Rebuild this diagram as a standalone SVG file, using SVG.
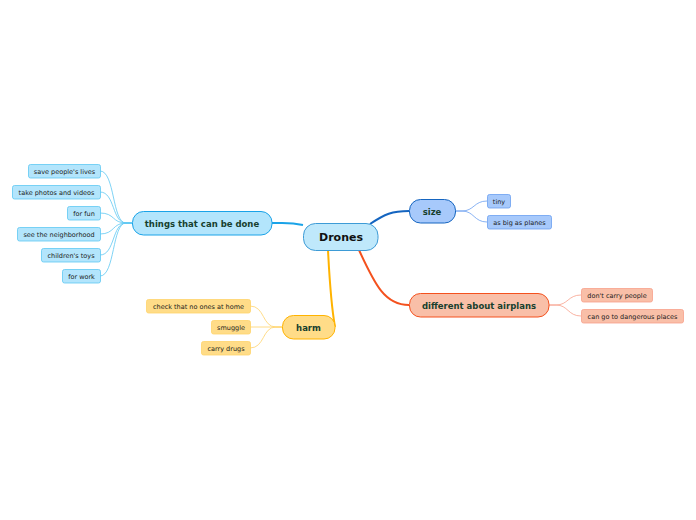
<svg xmlns="http://www.w3.org/2000/svg" width="696" height="520" viewBox="0 0 696 520">
<style>
text{font-family:"DejaVu Sans",Verdana,sans-serif;text-anchor:middle;dominant-baseline:central;fill:#1a1a1a}
.main{font-size:8.5px;font-weight:bold;fill:#17402e}
.leaf{font-size:6.5px}
.c path{fill:none}
</style>
<rect width="696" height="520" fill="#ffffff"/>
<g class="c" id="connectors">
<path d="M303,225 C290,222 285,223 272,223" stroke="#1aa3e8" stroke-width="2"/>
<path d="M370,224 C385,214 392,211 409,211" stroke="#1565c0" stroke-width="2"/>
<path d="M359,250 C375,285 385,305 409,305" stroke="#f4511e" stroke-width="2"/>
<path d="M328,250 C330,290 332,310 335,327" stroke="#ffb300" stroke-width="2"/>
<g stroke="#5ec8f2" stroke-width="0.8">
<path d="M132,223 L126,223 C112,223 115,171 100,171"/>
<path d="M132,223 L126,223 C112,223 115,192 100,192"/>
<path d="M132,223 L126,223 C112,223 115,213 100,213"/>
<path d="M132,223 L126,223 C112,223 115,234 100,234"/>
<path d="M132,223 L126,223 C112,223 115,255 100,255"/>
<path d="M132,223 L126,223 C112,223 115,276 100,276"/>
</g>
<g stroke="#6a9ef0" stroke-width="0.8">
<path d="M455,211 L462,211 C474,211 474,201 487,201"/>
<path d="M455,211 L462,211 C474,211 474,222 487,222"/>
</g>
<g stroke="#f7a08a" stroke-width="0.8">
<path d="M549,305 L556,305 C568,305 568,295 581,295"/>
<path d="M549,305 L556,305 C568,305 568,316 581,316"/>
</g>
<g stroke="#ffd36b" stroke-width="0.8">
<path d="M282,327 L276,327 C262,327 265,306 250,306"/>
<path d="M282,327 L250,327"/>
<path d="M282,327 L276,327 C262,327 265,348 250,348"/>
</g>
</g>
<g id="drones">
<rect x="303.5" y="223.5" width="74.5" height="27" rx="12" fill="#bfe8fb" stroke="#3d9bd6" stroke-width="1"/>
<text x="341" y="237" style="font-size:11px;font-weight:bold;fill:#111">Drones</text>
</g>
<g id="things">
<rect x="132.5" y="211.5" width="139.5" height="23.5" rx="11" fill="#b3e5fc" stroke="#1aa3e8" stroke-width="1"/>
<text class="main" x="202" y="223.5">things that can be done</text>
</g>
<g id="size">
<rect x="409.5" y="199.5" width="46" height="23.5" rx="11" fill="#a7c9fb" stroke="#1565c0" stroke-width="1"/>
<text class="main" x="432" y="211.5">size</text>
</g>
<g id="airplans">
<rect x="409.5" y="293.5" width="139.5" height="23.5" rx="11" fill="#f9bfa8" stroke="#f4511e" stroke-width="1"/>
<text class="main" x="479" y="305.5">different about airplans</text>
</g>
<g id="harm">
<rect x="282.5" y="315.5" width="52.5" height="23.5" rx="11" fill="#ffdc88" stroke="#ffb300" stroke-width="1"/>
<text class="main" x="308.5" y="327.5">harm</text>
</g>
<g id="t1"><rect x="28.5" y="164.5" width="72" height="13.5" rx="2" fill="#b3e5fc" stroke="#5ec8f2" stroke-width="0.8"/><text class="leaf" x="64.5" y="171.5">save people's lives</text></g>
<g id="t2"><rect x="12.5" y="185.5" width="88" height="13.5" rx="2" fill="#b3e5fc" stroke="#5ec8f2" stroke-width="0.8"/><text class="leaf" x="56.5" y="192.5">take photos and videos</text></g>
<g id="t3"><rect x="67.5" y="206.5" width="33" height="13.5" rx="2" fill="#b3e5fc" stroke="#5ec8f2" stroke-width="0.8"/><text class="leaf" x="84" y="213.5">for fun</text></g>
<g id="t4"><rect x="17.5" y="227.5" width="83" height="13.5" rx="2" fill="#b3e5fc" stroke="#5ec8f2" stroke-width="0.8"/><text class="leaf" x="59" y="234.5">see the neighborhood</text></g>
<g id="t5"><rect x="41.5" y="248.5" width="59" height="13.5" rx="2" fill="#b3e5fc" stroke="#5ec8f2" stroke-width="0.8"/><text class="leaf" x="71" y="255.5">children's toys</text></g>
<g id="t6"><rect x="62.5" y="269.5" width="38" height="13.5" rx="2" fill="#b3e5fc" stroke="#5ec8f2" stroke-width="0.8"/><text class="leaf" x="81.5" y="276.5">for work</text></g>
<g id="s1"><rect x="487.5" y="194.5" width="23" height="13.5" rx="2" fill="#a7c9fb" stroke="#6a9ef0" stroke-width="0.8"/><text class="leaf" x="499" y="201.5">tiny</text></g>
<g id="s2"><rect x="487.5" y="215.5" width="64" height="13.5" rx="2" fill="#a7c9fb" stroke="#6a9ef0" stroke-width="0.8"/><text class="leaf" x="519.5" y="222.5">as big as planes</text></g>
<g id="a1"><rect x="581.5" y="288.5" width="71" height="13.5" rx="2" fill="#f9bfa8" stroke="#f7a08a" stroke-width="0.8"/><text class="leaf" x="617" y="295.5">don't carry people</text></g>
<g id="a2"><rect x="581.5" y="309.5" width="102" height="13.5" rx="2" fill="#f9bfa8" stroke="#f7a08a" stroke-width="0.8"/><text class="leaf" x="632.5" y="316.5">can go to dangerous places</text></g>
<g id="h1"><rect x="146.5" y="299.5" width="104" height="13.5" rx="2" fill="#ffdc88" stroke="#ffd36b" stroke-width="0.8"/><text class="leaf" x="198.5" y="306.5">check that no ones at home</text></g>
<g id="h2"><rect x="211.5" y="320.5" width="39" height="13.5" rx="2" fill="#ffdc88" stroke="#ffd36b" stroke-width="0.8"/><text class="leaf" x="231" y="327.5">smuggle</text></g>
<g id="h3"><rect x="201.5" y="341.5" width="49" height="13.5" rx="2" fill="#ffdc88" stroke="#ffd36b" stroke-width="0.8"/><text class="leaf" x="226" y="348.5">carry drugs</text></g>
</svg>
